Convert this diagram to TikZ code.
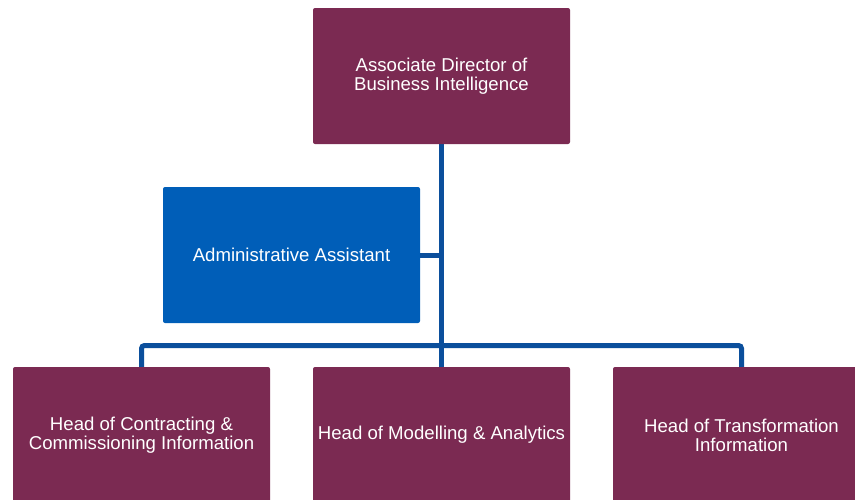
\documentclass[tikz,border=0pt]{standalone}
\usepackage{fontspec}
\setmainfont{Liberation Sans}
\usetikzlibrary{backgrounds}
\definecolor{maroon}{HTML}{7B2A52}
\definecolor{nhsblue}{HTML}{005EB8}
\definecolor{linkblue}{HTML}{0B4F9C}
\tikzset{
  orgbox/.style={rectangle, rounded corners=2pt, minimum width=257pt, minimum height=136pt,
    inner sep=0pt, text=white, align=center, font=\fontsize{18.6}{19}\selectfont},
  mbox/.style={orgbox, fill=maroon},
  bbox/.style={orgbox, fill=nhsblue},
  link/.style={draw=linkblue, line width=5pt}
}
\begin{document}
\begin{tikzpicture}[x=1pt,y=-1pt]
\useasboundingbox (0,0) rectangle (855,499);
\node[mbox] (top) at (441.5,76) {Associate Director of\\Business Intelligence};
\node[bbox] (admin) at (291.5,255) {Administrative Assistant};
\node[mbox] (b1) at (141.5,435) {Head of Contracting \&\\Commissioning Information};
\node[mbox] (b2) at (441.5,435) {Head of Modelling \& Analytics};
\node[mbox] (b3) at (741.5,435) {Head of Transformation\\Information};
\coordinate (hub) at (441.5,345.5);
\begin{scope}[on background layer]
\draw[link] (top.south) -- (b2.north);
\draw[link] (admin.east) -- (admin.east -| top.south);
\draw[link, rounded corners=3pt] (b1.north) |- (hub) -| (b3.north);
\end{scope}
\end{tikzpicture}
\end{document}
